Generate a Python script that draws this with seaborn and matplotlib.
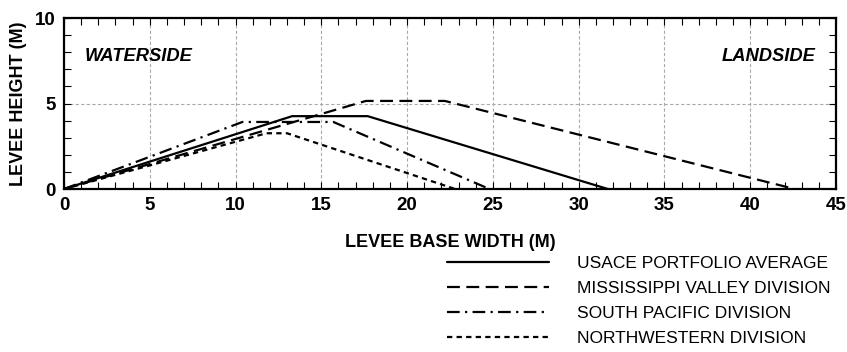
import numpy as np
import pandas as pd
import seaborn as sns
import matplotlib
matplotlib.use("Agg")
import matplotlib.pyplot as plt
from matplotlib.ticker import MultipleLocator

# ---- data ----
series_names = ["USACE PORTFOLIO AVERAGE", "MISSISSIPPI VALLEY DIVISION",
                "SOUTH PACIFIC DIVISION", "NORTHWESTERN DIVISION"]
usace_x = [0, 13.3, 17.7, 31.7]
usace_y = [0, 4.26, 4.26, 0]
mvd_x = [0, 17.6, 22.2, 42.6]
mvd_y = [0, 5.15, 5.15, 0]
spd_x = [0, 10.4, 15.7, 24.8]
spd_y = [0, 3.92, 3.92, 0]
nwd_x = [0, 11.8, 13.0, 22.8]
nwd_y = [0, 3.26, 3.26, 0]
x_ticks = [0, 5, 10, 15, 20, 25, 30, 35, 40, 45]
y_ticks = [0, 5, 10]

xs = [usace_x, mvd_x, spd_x, nwd_x]
ys = [usace_y, mvd_y, spd_y, nwd_y]
rows = []
for name, xv, yv in zip(series_names, xs, ys):
    for i, (a, b) in enumerate(zip(xv, yv)):
        rows.append({"series": name, "x": a, "y": b, "order": i})
df = pd.DataFrame(rows)

sns.set_theme(style="white")
plt.rcParams['font.family'] = ['Liberation Sans', 'DejaVu Sans']
plt.rcParams['text.color'] = 'black'
plt.rcParams['axes.labelcolor'] = 'black'
plt.rcParams['xtick.color'] = 'black'
plt.rcParams['ytick.color'] = 'black'

fig = plt.figure(figsize=(8.47, 3.52), dpi=100)
ax = fig.add_axes([64 / 847, 1 - 189 / 352, (836 - 64) / 847, (189 - 18) / 352])

dash_styles = {
    series_names[0]: "",
    series_names[1]: (5.8, 2.9),
    series_names[2]: (5.7, 2.4, 1, 2.4),
    series_names[3]: (2.4, 1.9),
}
lw = 1.6
handles = []
for name in series_names:
    sub = df[df["series"] == name]
    sns.lineplot(data=sub, x="x", y="y", sort=False, estimator=None,
                 color="black", lw=lw, ax=ax, legend=False)
    line = ax.lines[-1]
    d = dash_styles[name]
    if d:
        line.set_dashes(d)
    handles.append(line)

ax.set_xlim(0, 45)
ax.set_ylim(0, 10)
ax.set_xticks(x_ticks)
ax.set_yticks(y_ticks)
ax.xaxis.set_minor_locator(MultipleLocator(1))
ax.yaxis.set_minor_locator(MultipleLocator(1))
ax.tick_params(which="both", direction="in", top=True, right=True,
               bottom=True, left=True, color="black", labelcolor="black",
               width=0.8)
ax.tick_params(which="major", length=5, labelsize=13.5, pad=6)
ax.tick_params(which="minor", length=5)
for lab in ax.get_xticklabels() + ax.get_yticklabels():
    lab.set_fontweight("bold")
ax.grid(True, which="major", color="#aaaaaa", linestyle=(0, (3, 2)), lw=0.8)
for sp in ax.spines.values():
    sp.set_color("black")
    sp.set_linewidth(1.6)

ax.set_xlabel("LEVEE BASE WIDTH (M)", fontsize=13, fontweight="bold",
              labelpad=14, color="black")
ax.set_ylabel("LEVEE HEIGHT (M)", fontsize=13, fontweight="bold",
              labelpad=6, color="black")

ax.text(0.027, 0.772, "WATERSIDE", transform=ax.transAxes, fontsize=13.2,
        fontweight="bold", fontstyle="italic", ha="left", va="center",
        color="black")
ax.text(0.973, 0.772, "LANDSIDE", transform=ax.transAxes, fontsize=13.2,
        fontweight="bold", fontstyle="italic", ha="right", va="center",
        color="black")

leg = fig.legend(handles, series_names, loc="upper left",
                 bbox_to_anchor=(447 / 847, 1 - 256 / 352), frameon=False,
                 fontsize=12.5, handlelength=5.9, handletextpad=1.6,
                 labelspacing=0.56, borderaxespad=0, borderpad=0,
                 labelcolor="black")

fig.savefig("out.png", dpi=100)
